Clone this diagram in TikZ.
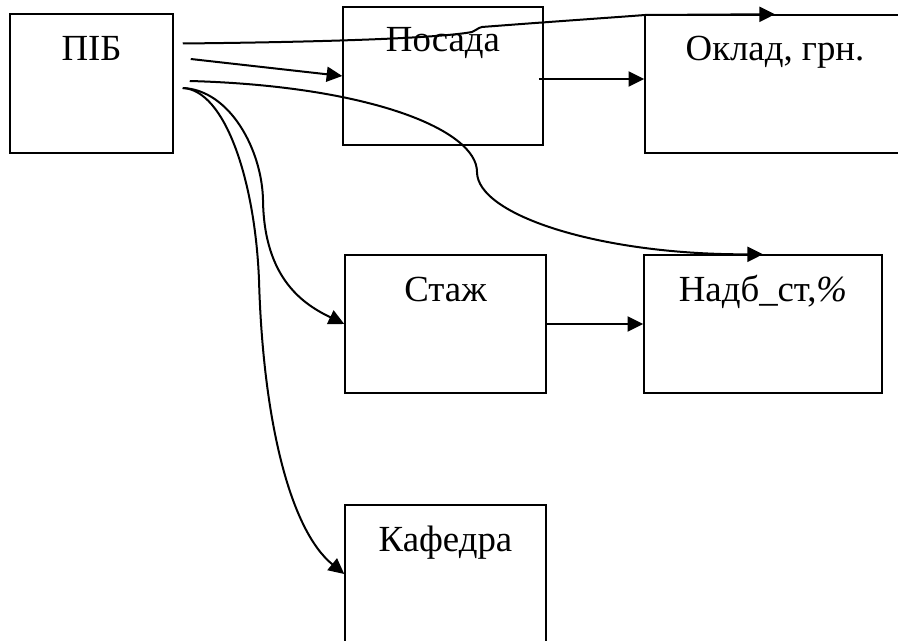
\documentclass[tikz,border=0pt]{standalone}
\usepackage{fontspec}
\setmainfont{Liberation Serif}
\usetikzlibrary{arrows.meta}

\begin{document}
\begin{tikzpicture}[x=0.5pt,y=0.5pt,
    box/.style={draw,line width=0.75pt,rectangle,minimum height=69pt,inner sep=0pt},
    ttl/.style={anchor=base,font=\fontsize{18.4}{22}\selectfont},
    arr/.style={line width=1pt,-{Triangle[length=7.8pt,width=7.5pt]}}]
                \useasboundingbox (0,0) rectangle (898,-641);
                \clip (0,0) rectangle (898,-641);
                % boxes
                \node[box,minimum width=81.5pt,minimum height=69.5pt] (pib) at (91.5,-83.5) {};
                \node[box,minimum width=100pt] (posada) at (443,-76) {};
                \node[box,minimum width=130pt] (oklad) at (775,-84) {};
                \node[box,minimum width=100.5pt] (stazh) at (445.5,-324) {};
                \node[box,minimum width=119pt] (nadb) at (763,-324) {};
                \node[box,minimum width=100.5pt] (kafedra) at (445.5,-574) {};
                % titles
                \node[ttl] (pibt) at ([yshift=-23.5pt]pib.north) {ПІБ};
                \node[ttl] (posadat) at ([yshift=-22.5pt]posada.north) {Посада};
                \node[ttl] (okladt) at ([yshift=-23pt]oklad.north) {Оклад, грн.};
                \node[ttl] (stazht) at ([yshift=-23.5pt]stazh.north) {Стаж};
                \node[ttl] (nadbt) at ([yshift=-23.5pt]nadb.north) {Надб\_ст,\textit{\%}};
                \node[ttl] (kafedrat) at ([yshift=-23.5pt]kafedra.north) {Кафедра};
                % arrow starts
                \coordinate (s1) at ([shift={(9,40)}]pib.east);
                \coordinate (s2) at ([shift={(17,24.5)}]pib.east);
                \coordinate (s3) at ([shift={(16,2.5)}]pib.east);
                \coordinate (s4) at ([shift={(9,-4.5)}]pib.east);
                \coordinate (s6) at ([shift={(-5,-3)}]posada.east);
                % arrows
                \draw[arr] (s1) .. controls (330,-42) and (440,-38) .. (472,-32)
                    .. controls (476,-31) and (477,-28) .. (482,-27)
                    .. controls (560,-21) and (620,-17) .. (645,-15) -- (oklad.north);
                \draw[arr] (s2) -- (posada.west);
                \draw[arr] (s3) .. controls (370,-86) and (477,-130) .. (477,-172)
                    .. controls (477,-215) and (600,-255) .. (nadb.north);
                \draw[arr] (s4) .. controls (230,-90) and (262,-150) .. (263,-200)
                    .. controls (264,-280) and (305,-305) .. (stazh.west);
                \draw[arr] (s4) .. controls (225,-90) and (255,-180) .. (259,-280)
                    .. controls (263,-420) and (290,-530) .. (kafedra.west);
                \draw[arr] (s6) -- (s6 -| oklad.west);
                \draw[arr] (stazh.east) -- (nadb.west);
\end{tikzpicture}
\end{document}
